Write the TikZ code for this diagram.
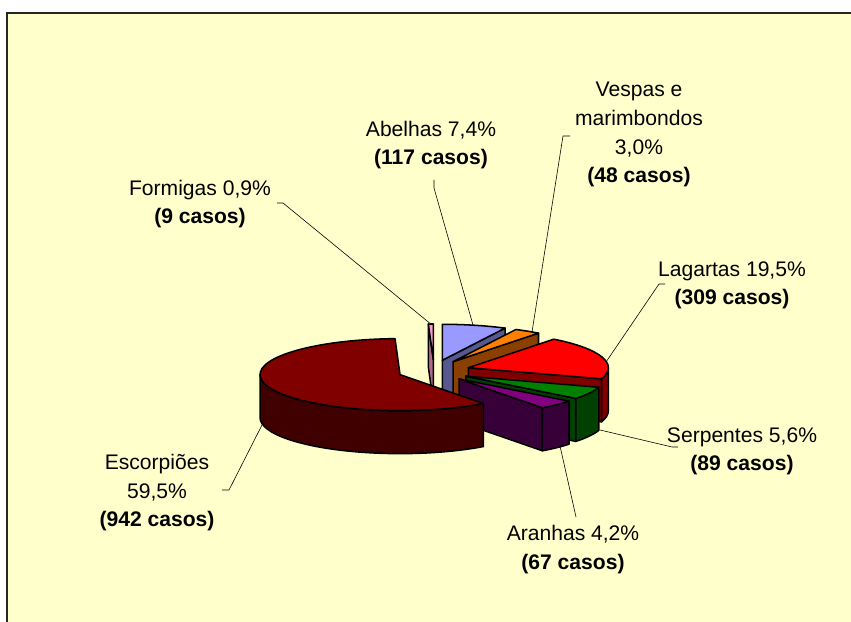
\documentclass[tikz,border=0pt]{standalone}
\usepackage{fontspec}
\setmainfont{Liberation Sans}

\definecolor{fundo}{HTML}{FFFFCC}
\definecolor{escTopo}{HTML}{800000}
\definecolor{escLado}{HTML}{400000}
\definecolor{lagTopo}{HTML}{FF0000}
\definecolor{lagLado}{HTML}{800000}
\definecolor{serTopo}{HTML}{008000}
\definecolor{serLado}{HTML}{004000}
\definecolor{araTopo}{HTML}{800080}
\definecolor{araLado}{HTML}{380038}
\definecolor{vesTopo}{HTML}{FF8000}
\definecolor{vesLado}{HTML}{8C4000}
\definecolor{abeTopo}{HTML}{9999FF}
\definecolor{abeLado}{HTML}{585890}
\definecolor{forTopo}{HTML}{FF99CC}
\definecolor{forLado}{HTML}{B06A8C}

\tikzset{
  face/.style={draw=black,line width=1.3pt,line join=round},
  guia/.style={draw=black,line width=0.5pt},
  rotulo/.style={align=center,inner sep=0pt,font=\fontsize{18}{24.7}\selectfont},
}

% tampo de uma fatia: vertice, inicio, fim, cor
\newcommand{\tampo}[4]{%
  \filldraw[face,fill=#4] (#1) -- ++(#2:140 and 36)
    arc[start angle=#2,end angle=#3,x radius=140,y radius=36] -- cycle;}
% face de corte: vertice, angulo, cor
\newcommand{\corte}[3]{%
  \filldraw[face,fill=#3] (#1) -- ++(#2:140 and 36) -- ++(0,-43)
    -- ++(#2+180:140 and 36) -- cycle;}
% lado curvo: vertice, inicio, fim, cor
\newcommand{\lateral}[4]{%
  \filldraw[face,fill=#4] ([shift={(#2:140 and 36)}]#1)
    arc[start angle=#2,end angle=#3,x radius=140,y radius=36] -- ++(0,-43)
    arc[start angle=#3,end angle=#2,x radius=140,y radius=36] -- cycle;}

\begin{document}
\begin{tikzpicture}[x=0.03cm,y=0.03cm]

\useasboundingbox (0,0) rectangle (851,621);
\clip (0,0) rectangle (851,621);

% fundo e moldura
\fill[white] (0,0) rectangle (851,621);
\filldraw[fill=fundo,draw=black!85,line width=1.6pt] (7,-20) rectangle (880,608);

% centro da pizza e vertices das fatias (afastadas)
\coordinate (C) at (434,250);
\coordinate (pFor) at ([shift={(91.03:36 and 11)}]C);
\coordinate (pAbe) at ([shift={(76.68:36 and 11)}]C);
\coordinate (pVes) at ([shift={(57.90:36 and 11)}]C);
\coordinate (pLag) at ([shift={(17.25:36 and 11)}]C);
\coordinate (pSer) at ([shift={(-28.07:36 and 11)}]C);
\coordinate (pAra) at ([shift={(-45.83:36 and 11)}]C);
\coordinate (pEsc) at ([shift={(199.29:36 and 11)}]C);

% Formigas
\corte{pFor}{92.05}{forLado}
\tampo{pFor}{90}{92.05}{forTopo}

% Abelhas
\corte{pAbe}{63.36}{abeLado}
\tampo{pAbe}{63.36}{90}{abeTopo}

% Vespas e marimbondos
\corte{pVes}{52.43}{vesLado}
\tampo{pVes}{52.43}{63.36}{vesTopo}

% Lagartas
\corte{pLag}{-17.93}{lagLado}
\lateral{pLag}{-17.93}{0}{lagLado}
\tampo{pLag}{-17.93}{52.43}{lagTopo}

% Serpentes
\corte{pSer}{-38.20}{serLado}
\lateral{pSer}{-38.20}{-17.93}{serLado}
\tampo{pSer}{-38.20}{-17.93}{serTopo}

% Aranhas
\corte{pAra}{-53.46}{araLado}
\lateral{pAra}{-53.46}{-38.20}{araLado}
\tampo{pAra}{-53.46}{-38.20}{araTopo}

% Escorpioes
\lateral{pEsc}{180}{306.54}{escLado}
\tampo{pEsc}{92.04}{306.54}{escTopo}

% rotulos (base = ultima linha)
\node[rotulo,anchor=base] (rVes) at (639,438) {Vespas e\\marimbondos\\3,0\%\\\textbf{(48 casos)}};
\node[rotulo,anchor=base] (rAbe) at (431,456) {Abelhas 7,4\%\\\textbf{(117 casos)}};
\node[rotulo,anchor=base] (rFor) at (200,397) {Formigas 0,9\%\\\textbf{(9 casos)}};
\node[rotulo,anchor=base] (rLag) at (732,316) {Lagartas 19,5\%\\\textbf{(309 casos)}};
\node[rotulo,anchor=base] (rSer) at (742,150) {Serpentes 5,6\%\\\textbf{(89 casos)}};
\node[rotulo,anchor=base] (rEsc) at (157,94) {Escorpiões\\59,5\%\\\textbf{(942 casos)}};
\node[rotulo,anchor=base] (rAra) at (573,52) {Aranhas 4,2\%\\\textbf{(67 casos)}};

% linhas de chamada
\coordinate (gFor) at (432,296);
\coordinate (gAbe) at (473,296);
\coordinate (gVes) at (532,289);
\coordinate (gLag) at (606,259);
\coordinate (gSer) at (600,191);
\coordinate (gAra) at (560,175);
\coordinate (gEsc) at (262,196);
\draw[guia] (277,418) -- (283,418) -- (gFor);
\draw[guia] (434,441) -- (434,433) -- (gAbe);
\draw[guia] (570,485) -- (563,485) -- (gVes);
\draw[guia] (665,337) -- (659,337) -- (gLag);
\draw[guia] (678,174) -- (672,174) -- (gSer);
\draw[guia] (576,104) -- (gAra);
\draw[guia] (222,131) -- (229,131) -- (gEsc);

\end{tikzpicture}
\end{document}
